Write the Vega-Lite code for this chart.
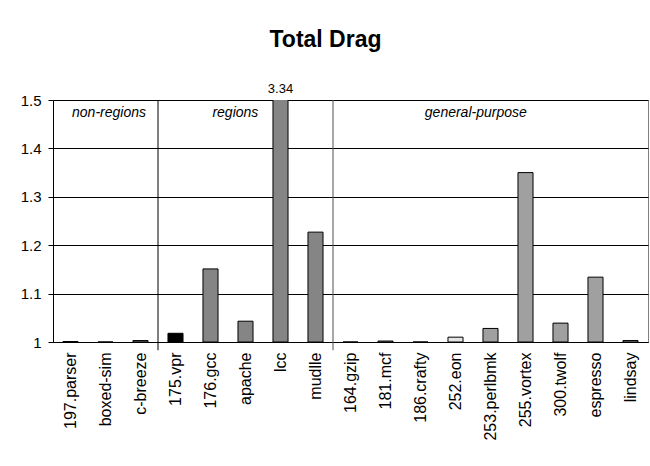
{
  "$schema": "https://vega.github.io/schema/vega-lite/v6.json",
  "width": 595,
  "height": 242,
  "autosize": {"type": "none"},
  "padding": {"left": 53, "top": 100, "right": 2, "bottom": 124},
  "background": "white",
  "title": {"text": "Total Drag", "font": "Liberation Sans", "fontSize": 23, "fontWeight": "bold", "color": "black", "anchor": "middle", "dx": -25, "offset": 31},
  "config": {"view": {"stroke": "#808080", "strokeWidth": 1}},
  "datasets": {
    "bars": [
      {"bench": "197.parser", "group": "non-regions", "value": 1.001},
      {"bench": "boxed-sim", "group": "non-regions", "value": 1.0},
      {"bench": "c-breeze", "group": "non-regions", "value": 1.003},
      {"bench": "175.vpr", "group": "regions", "value": 1.018},
      {"bench": "176.gcc", "group": "regions", "value": 1.151},
      {"bench": "apache", "group": "regions", "value": 1.043},
      {"bench": "lcc", "group": "regions", "value": 3.34},
      {"bench": "mudlle", "group": "regions", "value": 1.227},
      {"bench": "164.gzip", "group": "general-purpose", "value": 1.0},
      {"bench": "181.mcf", "group": "general-purpose", "value": 1.002},
      {"bench": "186.crafty", "group": "general-purpose", "value": 1.0},
      {"bench": "252.eon", "group": "general-purpose", "value": 1.01},
      {"bench": "253.perlbmk", "group": "general-purpose", "value": 1.028},
      {"bench": "255.vortex", "group": "general-purpose", "value": 1.35},
      {"bench": "300.twolf", "group": "general-purpose", "value": 1.039},
      {"bench": "espresso", "group": "general-purpose", "value": 1.134},
      {"bench": "lindsay", "group": "general-purpose", "value": 1.003}
    ],
    "one": [{"section": 1}]
  },
  "layer": [
    {
      "data": {"name": "bars"},
      "mark": {"type": "bar", "width": {"band": 0.43}, "stroke": "black", "strokeWidth": 1, "clip": true},
      "encoding": {
        "x": {"field": "bench", "type": "nominal", "sort": null,
          "scale": {"paddingInner": 0, "paddingOuter": 0},
          "axis": {"title": null, "labelAngle": -90, "labelFont": "Liberation Sans", "labelFontSize": 16, "labelColor": "black", "ticks": false, "labelPadding": 10, "domainColor": "black", "grid": false}},
        "y": {"field": "value", "type": "quantitative",
          "scale": {"domain": [1, 1.5], "zero": false, "nice": false},
          "axis": {"title": null, "values": [1, 1.1, 1.2, 1.3, 1.4, 1.5], "format": "~g", "grid": true,
            "gridColor": "black", "gridOpacity": 1,
            "tickColor": "black", "domainColor": "black", "tickSize": 5, "labelPadding": 7,
            "labelFont": "Liberation Sans", "labelFontSize": 15, "labelColor": "black"}},
        "y2": {"datum": 1},
        "color": {
          "condition": [
            {"test": "datum.bench === '175.vpr'", "value": "#000000"},
            {"test": "datum.bench === '252.eon'", "value": "#e4e4e4"}
          ],
          "field": "group", "type": "nominal",
          "scale": {"domain": ["non-regions", "regions", "general-purpose"], "range": ["#808080", "#858585", "#a0a0a0"]},
          "legend": null}
      }
    },
    {
      "data": {"name": "bars"},
      "transform": [{"filter": "datum.value > 1.5"}],
      "mark": {"type": "text", "font": "Liberation Sans", "fontSize": 13, "fill": "black", "baseline": "bottom", "dy": -4},
      "encoding": {
        "x": {"field": "bench", "type": "nominal", "sort": null},
        "y": {"datum": 1.5, "type": "quantitative"},
        "text": {"field": "value", "type": "quantitative", "format": ".2f"}
      }
    },
    {
      "data": {"name": "one"},
      "mark": {"type": "rule", "color": "black", "strokeWidth": 1},
      "encoding": {
        "x": {"datum": "175.vpr", "type": "nominal", "bandPosition": 0},
        "y": {"datum": 1.5, "type": "quantitative"},
        "y2": {"datum": 0.983}
      }
    },
    {
      "data": {"name": "one"},
      "mark": {"type": "rule", "color": "#505050", "strokeWidth": 1},
      "encoding": {
        "x": {"datum": "164.gzip", "type": "nominal", "bandPosition": 0},
        "y": {"datum": 1.5, "type": "quantitative"},
        "y2": {"datum": 0.983}
      }
    },
    {
      "data": {"name": "one"},
      "mark": {"type": "text", "font": "Liberation Sans", "fontSize": 14, "fontStyle": "italic", "fill": "black", "baseline": "middle", "align": "center"},
      "encoding": {
        "x": {"datum": "boxed-sim", "type": "nominal", "bandPosition": 0.6},
        "y": {"datum": 1.473, "type": "quantitative"},
        "text": {"value": "non-regions"}
      }
    },
    {
      "data": {"name": "one"},
      "mark": {"type": "text", "font": "Liberation Sans", "fontSize": 14, "fontStyle": "italic", "fill": "black", "baseline": "middle", "align": "center"},
      "encoding": {
        "x": {"datum": "apache", "type": "nominal", "bandPosition": 0.21},
        "y": {"datum": 1.473, "type": "quantitative"},
        "text": {"value": "regions"}
      }
    },
    {
      "data": {"name": "one"},
      "mark": {"type": "text", "font": "Liberation Sans", "fontSize": 14, "fontStyle": "italic", "fill": "black", "baseline": "middle", "align": "center"},
      "encoding": {
        "x": {"datum": "253.perlbmk", "type": "nominal", "bandPosition": 0.08},
        "y": {"datum": 1.473, "type": "quantitative"},
        "text": {"value": "general-purpose"}
      }
    }
  ]
}
